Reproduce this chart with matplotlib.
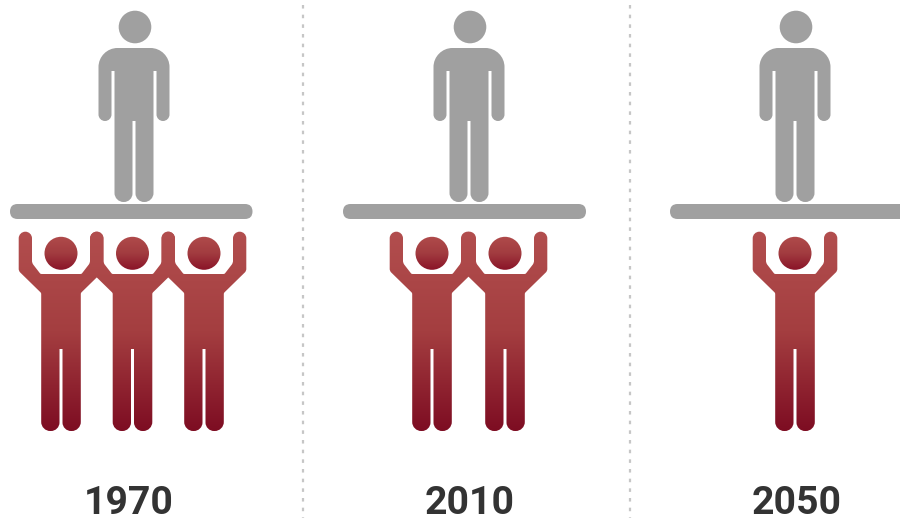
import numpy as np
import matplotlib
matplotlib.use("Agg")
import matplotlib.pyplot as plt
from matplotlib.path import Path
from matplotlib.patches import PathPatch, Circle, FancyBboxPatch
from matplotlib.colors import LinearSegmentedColormap

# data
years = ["1970", "2010", "2050"]
workers_per_retiree = [3, 2, 1]

W, H = 900, 518
GREY = "#a0a0a0"
RED_TOP, RED_BOT = "#b24e4e", "#7d0c22"
HEAD_TOP, HEAD_BOT = "#b04b4b", "#8a1428"


def rounded(points):
    """points: (x, y, r) closed polygon with rounded corners -> Path"""
    n = len(points)
    verts, codes = [], []
    for i in range(n):
        p = np.array(points[i][:2], float)
        r = points[i][2]
        a = np.array(points[i - 1][:2], float)
        b = np.array(points[(i + 1) % n][:2], float)
        if r > 0:
            da = (a - p) / np.linalg.norm(a - p)
            db = (b - p) / np.linalg.norm(b - p)
            p1, p2 = p + da * r, p + db * r
            c1, c2 = p1 + (p - p1) * 0.55, p2 + (p - p2) * 0.55
            verts += [p1, c1, c2, p2]
            codes += [Path.MOVETO if i == 0 else Path.LINETO,
                      Path.CURVE4, Path.CURVE4, Path.CURVE4]
        else:
            verts.append(p)
            codes.append(Path.MOVETO if i == 0 else Path.LINETO)
    verts.append(verts[0])
    codes.append(Path.CLOSEPOLY)
    return Path(np.array(verts), codes)


def mirror(half, cx):
    pts = [(cx + d, y, r) for d, y, r in half]
    pts += [(cx - d, y, r) for d, y, r in reversed(half) if d != 0]
    return pts


GREY_HALF = [(0, 48, 0), (35.5, 48, 19), (35.5, 121, 6.5), (22.5, 121, 6.5),
             (22.5, 71, 0), (19.5, 71, 0), (19.5, 202, 9), (1.5, 202, 8.5), (1.5, 121, 0)]
RED_HALF = [(0, 274, 0), (20.5, 274, 1), (29, 263, 2), (29, 231.7, 6.6), (42.3, 231.7, 6.6),
            (42.3, 271, 2), (19.8, 293, 1), (19.8, 431, 9), (1.5, 431, 8.5), (1.5, 349, 0)]

fig = plt.figure(figsize=(W / 100, H / 100), dpi=100, facecolor="white")
ax = fig.add_axes([0, 0, 1, 1])

body_cmap = LinearSegmentedColormap.from_list("b", [RED_TOP, "#a43e40", RED_BOT])
head_cmap = LinearSegmentedColormap.from_list("h", [HEAD_TOP, "#a23c40", HEAD_BOT])
grad = np.linspace(0, 1, 256).reshape(-1, 1)


def grey_person(cx):
    ax.add_patch(Circle((cx + 1, 27), 16.3, fc=GREY, ec="none", zorder=3))
    ax.add_patch(PathPatch(rounded(mirror(GREY_HALF, cx)), fc=GREY, ec="none", zorder=3))


def red_person(cx):
    im = ax.imshow(grad, cmap=body_cmap, extent=(cx - 45, cx + 45, 432, 231),
                   aspect="auto", zorder=3, interpolation="bilinear")
    im.set_clip_path(rounded(mirror(RED_HALF, cx)), ax.transData)
    head = ax.imshow(grad, cmap=head_cmap, extent=(cx - 17, cx + 17, 270, 236.5),
                     aspect="auto", zorder=4, interpolation="bilinear")
    c = Circle((cx, 253.3), 16.5, transform=ax.transData)
    head.set_clip_path(c)


group_centres = [132.5, 468.5, 795]
grey_centres = [134, 469, 795]
plat_x = [(10, 252.5), (343, 586), (670, 915)]
label_x = [129, 470, 797]
spacings = {3: 71.5, 2: 73, 1: 0}

for i, yr in enumerate(years):
    grey_person(grey_centres[i])
    x0, x1 = plat_x[i]
    ax.add_patch(FancyBboxPatch((x0 + 7.5, 211.5), x1 - x0 - 15, 0,
                                boxstyle="round,pad=7.5,rounding_size=7.5",
                                fc=GREY, ec="none", zorder=2, mutation_aspect=1))
    n = workers_per_retiree[i]
    for k in range(n):
        red_person(group_centres[i] + (k - (n - 1) / 2) * spacings[n])
    ax.text(label_x[i], 514.3, yr, ha="center", va="baseline", fontsize=28.3,
            family="Roboto", weight="bold", color="#333333", clip_on=False)

for x in (302.7, 630):
    ax.plot([x, x], [5, H], color="#c6c6c6", lw=1.6, dashes=(1.6, 2.75), zorder=1)

ax.set_xlim(0, W)
ax.set_ylim(H, 0)
ax.axis("off")
fig.savefig("out.png", dpi=100, facecolor="white")
